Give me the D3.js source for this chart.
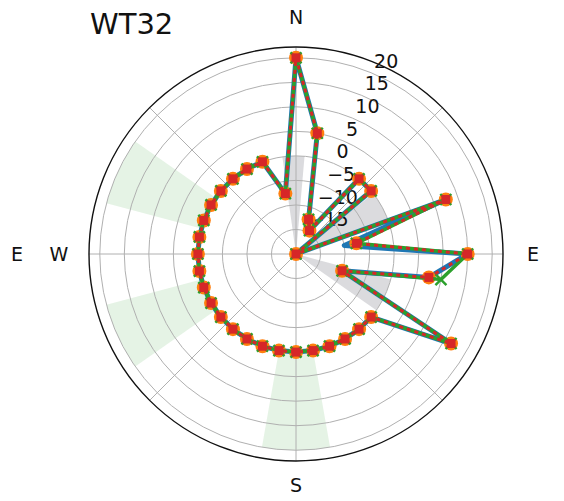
<!DOCTYPE html>
<html>
<head>
<meta charset="utf-8">
<script src="https://cdn.jsdelivr.net/npm/d3@7"></script>
<style>
  body { margin: 0; background: #fff; }
  svg { display: block; }
  text { font-family: "DejaVu Sans", sans-serif; fill: #111; }
</style>
</head>
<body>
<div id="chart"></div>
<script>
// Direction of each sample (degrees, clockwise from north)
const angles = [0, 10, 20, 30, 40, 50, 60, 70, 80, 90, 100, 110, 120,
  130, 140, 150, 160, 170, 180, 190, 200, 210, 220, 230, 240, 250, 260,
  270, 280, 290, 300, 310, 320, 330, 340, 350];

// Series values per direction
const blueValues = [20, 5, -12.5, -14.5, 0, 0, -20, 12.5, -10, 15, 7.5, -10, 16.5,
  0, 0, 0, 0, 0, 0, 0, 0, 0, 0, 0, 0, 0, 0, 0, 0, 0, 0, 0, 0, 0, 0, -7.5];
const orangeValues = [20, 5, -12.5, -14.5, 0, 0, -20, 12.5, -7.5, 15, 7.5, -10, 16.5,
  0, 0, 0, 0, 0, 0, 0, 0, 0, 0, 0, 0, 0, 0, 0, 0, 0, 0, 0, 0, 0, 0, -7.5];
const greenValues = [20, 5, -12.5, -14.5, 0, 0, -20, 12.5, -7.5, 15, 10, -10, 16.5,
  0, 0, 0, 0, 0, 0, 0, 0, 0, 0, 0, 0, 0, 0, 0, 0, 0, 0, 0, 0, 0, 0, -7.5];
const redValues = [20, 5, -12.5, -14.5, 0, 0, -20, 12.5, -7.5, 15, 7.5, -10, 16.5,
  0, 0, 0, 0, 0, 0, 0, 0, 0, 0, 0, 0, 0, 0, 0, 0, 0, 0, 0, 0, 0, 0, -7.5];

// Shaded sectors: [start, end] in degrees
const grayBands = [[-8, 5], [52, 72], [105, 125]];
const greenBands = [[170, 190], [235, 255], [285, 305]];

// Axis ticks
const radialTicks = [-15, -10, -5, 0, 5, 10, 15, 20];
const radialTickLabels = ["\u221215", "\u221210", "\u22125", "0", "5", "10", "15", "20"];
const thetaGrid = [0, 45, 90, 135, 180, 225, 270, 315];
const compassAngles = [0, 90, 180, 270];
const compassLabels = ["N", "E", "S", "W"];
const title = "WT32";

const width = 564, height = 501;
const cx = 296, cy = 254, R = 207;
const rMin = -20, rMax = 22.2;

const svg = d3.select("#chart").append("svg")
  .attr("width", width).attr("height", height);

const r = d3.scaleLinear().domain([rMin, rMax]).range([0, R]);
const rad = d => d * Math.PI / 180;

const g = svg.append("g").attr("transform", `translate(${cx},${cy})`);

// shaded sectors
const arc = d3.arc();
g.selectAll("path.green-band").data(greenBands).join("path")
  .attr("class", "green-band")
  .attr("d", d => arc({innerRadius: r(0), outerRadius: r(20), startAngle: rad(d[0]), endAngle: rad(d[1])}))
  .attr("fill", "#2ca02c").attr("fill-opacity", 0.12);
g.selectAll("path.gray-band").data(grayBands).join("path")
  .attr("class", "gray-band")
  .attr("d", d => arc({innerRadius: 0, outerRadius: r(0), startAngle: rad(d[0]), endAngle: rad(d[1])}))
  .attr("fill", "#a9a9b0").attr("fill-opacity", 0.42);

// grid
g.selectAll("circle.grid").data(radialTicks).join("circle")
  .attr("class", "grid").attr("r", d => r(d))
  .attr("fill", "none").attr("stroke", "#b0b0b0").attr("stroke-width", 1);
g.selectAll("line.spoke").data(thetaGrid).join("line")
  .attr("class", "spoke")
  .attr("x1", 0).attr("y1", 0)
  .attr("x2", d => R * Math.sin(rad(d))).attr("y2", d => -R * Math.cos(rad(d)))
  .attr("stroke", "#b0b0b0").attr("stroke-width", 1);
g.append("circle").attr("r", R).attr("fill", "none")
  .attr("stroke", "#111").attr("stroke-width", 1.4);

// radial tick labels along 22.5 deg
const labelAngle = rad(22.5);
g.selectAll("text.rtick").data(radialTicks).join("text")
  .attr("class", "rtick")
  .attr("x", d => r(d) * Math.sin(labelAngle) + 3)
  .attr("y", d => -r(d) * Math.cos(labelAngle) - 5)
  .attr("font-size", 19)
  .text((d, i) => radialTickLabels[i]);

// compass labels
g.selectAll("text.compass").data(compassAngles).join("text")
  .attr("class", "compass")
  .attr("x", d => 237 * Math.sin(rad(d)))
  .attr("y", d => -234 * Math.cos(rad(d)) - 3 * Math.abs(Math.cos(rad(d))))
  .attr("text-anchor", "middle").attr("dominant-baseline", "central")
  .attr("font-size", 19)
  .text((d, i) => compassLabels[i]);
// second east label on the far left
g.append("text").attr("x", -279).attr("y", 0)
  .attr("text-anchor", "middle").attr("dominant-baseline", "central")
  .attr("font-size", 19).text("E");

// series lines (closed loop)
const toPoints = vals => angles.map((a, i) => [rad(a), r(vals[i])]).concat([[rad(360), r(vals[0])]]);
const line = d3.lineRadial().angle(d => d[0]).radius(d => d[1]);

g.append("path").attr("d", line(toPoints(blueValues)))
  .attr("fill", "none").attr("stroke", "#1f77b4").attr("stroke-width", 5)
  .attr("stroke-linejoin", "round");

const pt = (a, v) => [r(v) * Math.sin(rad(a)), -r(v) * Math.cos(rad(a))];

// orange markers
g.selectAll("circle.orange").data(angles).join("circle")
  .attr("class", "orange")
  .attr("cx", (a, i) => pt(a, orangeValues[i])[0])
  .attr("cy", (a, i) => pt(a, orangeValues[i])[1])
  .attr("r", 7).attr("fill", "#ff7f0e");

// green line + x markers
g.append("path").attr("d", line(toPoints(greenValues)))
  .attr("fill", "none").attr("stroke", "#2ca02c").attr("stroke-width", 3.5);
g.selectAll("path.gx").data(angles).join("path")
  .attr("class", "gx")
  .attr("transform", (a, i) => `translate(${pt(a, greenValues[i])})`)
  .attr("d", "M-5.5,-5.5L5.5,5.5M-5.5,5.5L5.5,-5.5")
  .attr("stroke", "#2ca02c").attr("stroke-width", 2.4).attr("fill", "none");

// red dashed line + square markers
g.append("path").attr("d", line(toPoints(redValues)))
  .attr("fill", "none").attr("stroke", "#d62728").attr("stroke-width", 3)
  .attr("stroke-dasharray", "4,4");
g.selectAll("rect.red").data(angles).join("rect")
  .attr("class", "red")
  .attr("x", (a, i) => pt(a, redValues[i])[0] - 4.5)
  .attr("y", (a, i) => pt(a, redValues[i])[1] - 4.5)
  .attr("width", 9).attr("height", 9).attr("fill", "#d62728");

// title
svg.append("text").attr("x", 90).attr("y", 34)
  .attr("font-size", 29).text(title);
</script>
</body>
</html>
